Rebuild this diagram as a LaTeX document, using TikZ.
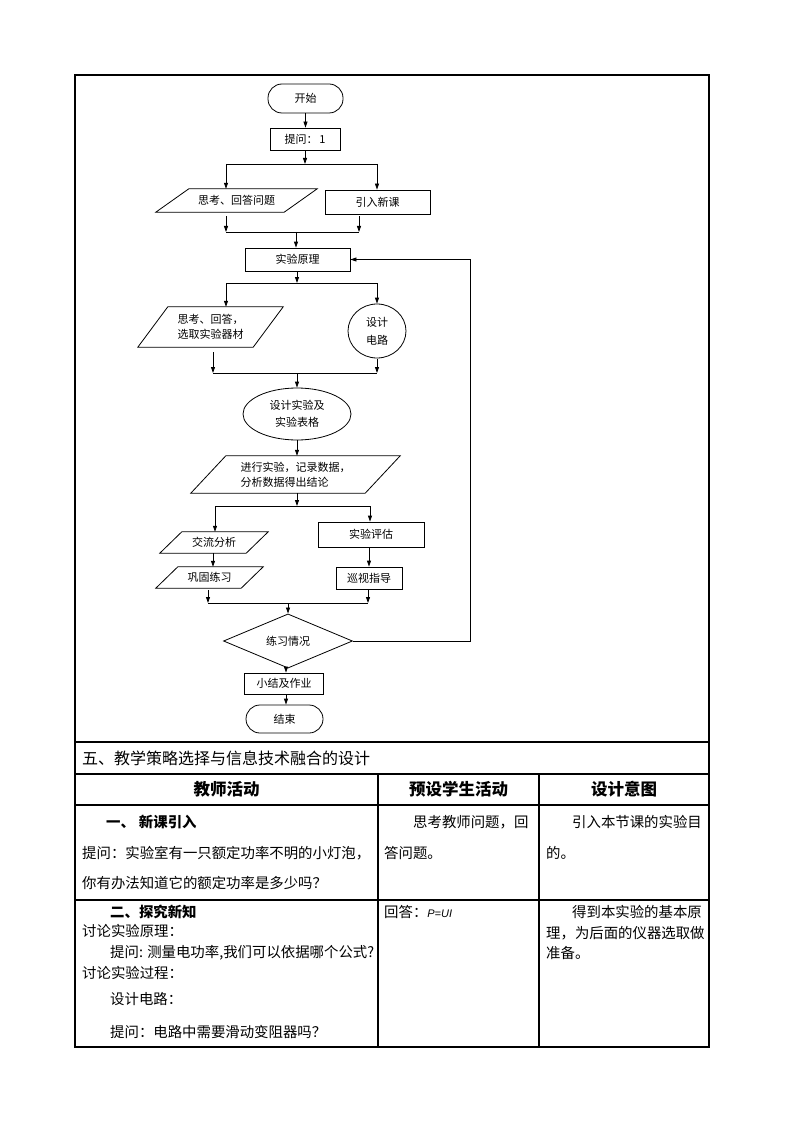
\documentclass[tikz,border=0pt]{standalone}
\usepackage{fontspec}
\setmainfont{Noto Sans CJK SC}
\newfontfamily\latinit{Liberation Sans}
\usetikzlibrary{shapes.geometric,arrows.meta,calc}
\newcommand\mypgram[2]{\draw[fl] ($(#1.north west)+(#2,0)$) -- (#1.north east) -- ($(#1.south east)-(#2,0)$) -- (#1.south west) -- cycle;}
\begin{document}
\begin{tikzpicture}[x=1pt,y=-1pt,
  fl/.style={line width=0.8pt},
  arr/.style={fl,-{Triangle[length=6pt,width=4pt]}},
  ftxt/.style={font=\fontsize{11}{15}\selectfont, inner sep=0pt, align=center},
  fbox/.style={ftxt, draw, fl, rectangle},
  term/.style={ftxt, draw, fl, rounded corners=14pt},
  pbox/.style={ftxt, draw=none, rectangle},
  tline/.style={line width=1.1pt},
  ttxt/.style={font=\fontsize{14.4}{18}\selectfont, inner sep=0pt, anchor=west},
  tbold/.style={ttxt, font=\fontsize{14.4}{18}\selectfont\bfseries},
  thead/.style={font=\fontsize{16.5}{20}\selectfont\bfseries, inner sep=0pt},
]
\useasboundingbox (0,0) rectangle (794,1123);

% ---------- flowchart ----------
\node[term, minimum width=75pt, minimum height=29pt] (start) at (305.5,98.5) {开始};
\node[fbox, minimum width=70pt, minimum height=22pt] (ask) at (305,139) {提问：\,1};
\draw[arr] (start.south) -- (start.south |- ask.north);

\coordinate (j1) at (305,164);
\coordinate (j1l) at (226,164);
\coordinate (j1r) at (377,164);
\draw[arr] (ask.south) -- (j1);
\draw[fl] (j1l) -- (j1r);
\node[pbox, minimum width=161pt, minimum height=23pt] (p1) at (236.5,200.5) {思考、回答问题};
\mypgram{p1}{33}
\node[fbox, minimum width=105pt, minimum height=24pt] (intro) at (377.5,202) {引入新课};
\draw[arr] (j1l) -- (j1l |- p1.north);
\draw[arr] (j1r) -- (j1r |- intro.north);

\coordinate (m1l) at (226,232);
\coordinate (m1r) at (359,232);
\coordinate (m1) at (296,232);
\draw[arr] ($(p1.south -| m1l)+(0,4)$) -- (m1l);
\draw[arr] ($(intro.south -| m1r)+(0,2)$) -- (m1r);
\draw[fl] (m1l) -- (m1r);
\node[fbox, minimum width=105pt, minimum height=23pt] (prin) at (297.5,259.5) {实验原理};
\draw[arr] (m1) -- (m1 |- prin.north);

\coordinate (j2) at (297,283);
\coordinate (j2l) at (226,283);
\coordinate (j2r) at (377,283);
\draw[arr] (prin.south -| j2) -- (j2);
\draw[fl] (j2l) -- (j2r);
\node[pbox, minimum width=145pt, minimum height=40pt, align=left] (p2) at (210.5,327) {思考、回答，\\选取实验器材};
\mypgram{p2}{30}
\node[ftxt, draw, fl, ellipse, minimum width=58pt, minimum height=54pt, font=\fontsize{11}{18}\selectfont] (c1) at (377,331) {设计\\电路};
\draw[arr] (j2l) -- (j2l |- p2.north);
\draw[arr] (j2r) -- (c1.north);

\coordinate (m2l) at (213,373);
\coordinate (m2r) at (377,373);
\coordinate (m2) at (297,373);
\draw[arr] ($(p2.south -| m2l)+(0,5)$) -- (m2l);
\draw[arr] ($(c1.south)+(0,1)$) -- (m2r);
\draw[fl] (m2l) -- (m2r);
\node[ftxt, draw, fl, ellipse, minimum width=108pt, minimum height=52pt, font=\fontsize{11}{17}\selectfont] (e1) at (297,414) {设计实验及\\实验表格};
\draw[arr] (m2) -- (e1.north);
\node[pbox, minimum width=209pt, minimum height=37pt, align=left] (p3) at (295.5,474.5) {进行实验，记录数据，\\分析数据得出结论};
\mypgram{p3}{35}
\draw[arr] (e1.south) -- (e1.south |- p3.north);

\coordinate (j3) at (297,506);
\coordinate (j3l) at (215,506);
\coordinate (j3r) at (370,506);
\draw[arr] (p3.south -| j3) -- (j3);
\draw[fl] (j3l) -- (j3r);
\node[pbox, minimum width=108pt, minimum height=21pt] (p4) at (214,542.5) {交流分析};
\mypgram{p4}{22}
\node[fbox, minimum width=106pt, minimum height=25pt] (eval) at (371,534.5) {实验评估};
\draw[arr] (j3l) -- (j3l |- p4.north);
\draw[arr] (j3r) -- (j3r |- eval.north);
\node[pbox, minimum width=107pt, minimum height=21pt] (p5) at (209.5,577.5) {巩固练习};
\mypgram{p5}{22}
\coordinate (a45) at (213,553);
\draw[arr] (p4.south -| a45) -- (a45 |- p5.north);
\node[fbox, minimum width=66pt, minimum height=22pt] (tour) at (369,578) {巡视指导};
\draw[arr] (eval.south -| tour) -- (tour.north);

\coordinate (m3l) at (208,603);
\coordinate (m3r) at (368,603);
\coordinate (m3) at (288,603);
\draw[arr] ($(p5.south -| m3l)+(0,2)$) -- (m3l);
\draw[arr] ($(tour.south -| m3r)+(0,1)$) -- (m3r);
\draw[fl] (m3l) -- (m3r);
\node[ftxt, draw, fl, diamond, minimum width=129pt, minimum height=40pt] (dia) at (288,641) {练习情况};
\draw[arr] (m3) -- (dia.north);

\coordinate (fb1) at (470,641);
\coordinate (fb2) at (470,259.5);
\draw[arr] (dia.east) -- (fb1) -- (fb2) -- (prin.east);

\node[fbox, minimum width=79pt, minimum height=21pt] (sum) at (284,683.5) {小结及作业};
\coordinate (a6) at (286,661);
\draw[arr] (dia.south -| a6) -- (a6 |- sum.north);
\node[term, minimum width=77pt, minimum height=28pt] (fin) at (284.5,719) {结束};
\draw[arr] (sum.south -| a6) -- (a6 |- fin.north);

% ---------- table ----------
\draw[tline] (75,75) rectangle (709,1047);
\draw[tline] (75,742) -- (709,742);
\draw[tline] (75,774) -- (709,774);
\draw[tline] (75,805) -- (709,805);
\draw[tline] (75,900) -- (709,900);
\draw[tline] (378,774) -- (378,1047);
\draw[tline] (539,774) -- (539,1047);

\node[ttxt, font=\fontsize{16}{20}\selectfont] (sec) at (82,758) {五、教学策略选择与信息技术融合的设计};
\node[thead] (h1) at (226.5,789.5) {教师活动};
\node[thead] (h2) at (458.5,789.5) {预设学生活动};
\node[thead] (h3) at (624,789.5) {设计意图};

\node[tbold] (r1a) at (106,822) {一、\hspace{4pt}新课引入};
\node[ttxt] (r1b) at (82,853) {提问：实验室有一只额定功率不明的小灯泡，};
\node[ttxt] (r1c) at (82,883) {你有办法知道它的额定功率是多少吗？};
\node[ttxt] (r1d) at (413,822) {思考教师问题，回};
\node[ttxt] (r1e) at (384,853) {答问题。};
\node[ttxt] (r1f) at (572,822) {引入本节课的实验目};
\node[ttxt] (r1g) at (546,853) {的。};

\node[tbold] (r2a) at (110,912) {二、探究新知};
\node[ttxt] (r2b) at (82,931) {讨论实验原理：};
\node[ttxt] (r2c) at (110,953) {提问: 测量电功率,我们可以依据哪个公式?};
\node[ttxt] (r2d) at (82,973) {讨论实验过程：};
\node[ttxt] (r2e) at (110,999) {设计电路：};
\node[ttxt] (r2f) at (110,1032) {提问：电路中需要滑动变阻器吗？};
\node[ttxt] (r2g) at (384,912) {回答：{\latinit\itshape\fontsize{11}{14}\selectfont P=UI}};
\node[ttxt] (r2h) at (572,912) {得到本实验的基本原};
\node[ttxt] (r2i) at (546,933) {理，为后面的仪器选取做};
\node[ttxt] (r2j) at (546,953) {准备。};
\end{tikzpicture}
\end{document}
